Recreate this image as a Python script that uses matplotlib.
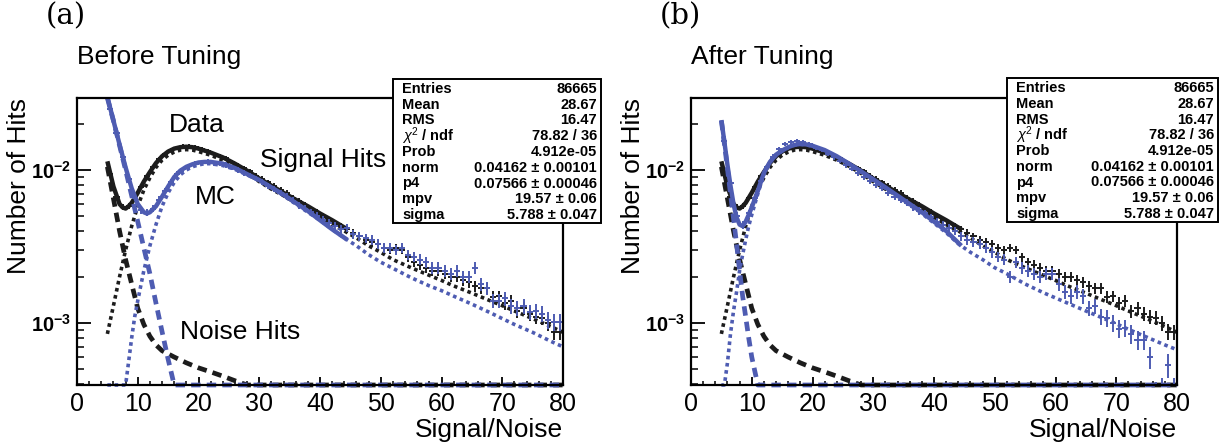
import numpy as np
import matplotlib
matplotlib.use('Agg')
import matplotlib.pyplot as plt
from matplotlib.patches import Rectangle
from matplotlib.ticker import FixedLocator, FixedFormatter, MultipleLocator, NullFormatter

plt.rcParams['font.family'] = ['Liberation Sans', 'DejaVu Sans']
plt.rcParams['mathtext.fontset'] = 'custom'
plt.rcParams['mathtext.rm'] = 'Liberation Sans'
plt.rcParams['mathtext.it'] = 'Liberation Sans:italic'
plt.rcParams['mathtext.bf'] = 'Liberation Sans:bold'

W, H = 1226, 446
BLACK = '#1c1c1c'
BLUE = '#4e5cb2'
YMIN, YMAX = 3.94e-4, 2.955e-2
DATA_ENTRIES = 86665
MC_ENTRIES = 60000

# histogram bin centers (Signal/Noise)
bin_centers = np.arange(5.5, 80, 1.0)

# ---- data (same in both panels) ----
data_hits = [
    0.0094, 0.0067, 0.0057, 0.0058, 0.0066, 0.0078, 0.0091, 0.0105, 0.0118, 0.0128,
    0.0136, 0.0140, 0.0143, 0.0144, 0.0141, 0.0137, 0.0133, 0.0128, 0.0124, 0.0119,
    0.0113, 0.0107, 0.0103, 0.0098, 0.0092, 0.0088, 0.0083, 0.0079, 0.0074, 0.0071,
    0.0066, 0.0063, 0.0059, 0.0056, 0.0053, 0.0050, 0.0047, 0.0045, 0.0043, 0.0041,
    0.0039, 0.0037, 0.0035, 0.0034, 0.0033, 0.0031, 0.0030, 0.0031, 0.0030, 0.0027,
    0.0025, 0.0024, 0.0023, 0.0022, 0.0022, 0.0021, 0.0020, 0.0020, 0.0019, 0.00185,
    0.00175, 0.0017, 0.0017, 0.00148, 0.0015, 0.00135, 0.0014, 0.0012, 0.00125, 0.00115,
    0.0011, 0.00108, 0.0010, 0.00088, 0.00087]

data_fit_x = [5, 6, 7, 7.5, 8, 8.5, 9, 10, 11, 12, 13, 14, 15, 16, 17, 18, 19, 20, 22, 24,
              26, 28, 30, 32, 34, 36, 38, 40, 42, 44.5]
data_fit = [0.0114, 0.0078, 0.0060, 0.0057, 0.0056, 0.0058, 0.0061, 0.0071, 0.0084, 0.0097,
            0.0111, 0.0123, 0.0132, 0.0138, 0.0141, 0.0142, 0.0141, 0.0138, 0.0130, 0.0121,
            0.0110, 0.0099, 0.0088, 0.0079, 0.0071, 0.0064, 0.0058, 0.0052, 0.0047, 0.0041]

data_sig_x = [5, 6, 7, 8, 9, 10, 11, 12, 13, 14, 15, 16, 17, 18, 19, 20, 22, 24, 26, 28, 30,
              32, 34, 36, 38, 40, 42, 44, 46, 48, 50, 52, 55, 58, 60, 62, 65, 68, 70, 72, 75,
              78, 80]
data_sig = [8.5e-4, 1.3e-3, 2.0e-3, 3.0e-3, 4.3e-3, 5.8e-3, 7.4e-3, 8.9e-3, 0.0104, 0.0116,
            0.0125, 0.0131, 0.0135, 0.0136, 0.0135, 0.0132, 0.0125, 0.0116, 0.0106, 0.0095,
            0.0084, 0.0075, 0.0068, 0.0061, 0.0055, 0.0049, 0.0044, 0.0040, 0.0036, 0.0032,
            0.0029, 0.0026, 0.0023, 0.00205, 0.0019, 0.00175, 0.00157, 0.0014, 0.0013, 0.0012,
            0.00107, 0.00095, 0.00087]

data_noise_x = [5, 6, 7, 8, 9, 10, 11, 12, 13, 14, 16, 18, 20, 22, 24, 26, 28, 30, 35, 40,
                50, 60, 70, 80]
data_noise = [0.0105, 0.0065, 0.0040, 0.0026, 0.0018, 0.00125, 0.00098, 0.00082, 0.00072,
              0.00066, 0.00060, 0.00055, 0.00051, 0.00048, 0.00045, 0.00042, 0.00039, 0.00036,
              0.00030, 0.00025, 0.00017, 0.00012, 0.00008, 0.00006]

# ---- MC before tuning ----
mc_before = [
    0.0250, 0.0175, 0.0122, 0.0088, 0.0066, 0.0055, 0.0053, 0.0056, 0.0064, 0.0073,
    0.0084, 0.0094, 0.0101, 0.0106, 0.0110, 0.0112, 0.0113, 0.0111, 0.0111, 0.0108,
    0.0104, 0.0100, 0.0096, 0.0092, 0.0088, 0.0083, 0.0079, 0.0075, 0.0071, 0.0067,
    0.0063, 0.0059, 0.0056, 0.0053, 0.0050, 0.0047, 0.0045, 0.0043, 0.0041, 0.0042,
    0.0038, 0.0037, 0.0036, 0.0035, 0.0033, 0.0031, 0.0031, 0.0030, 0.0031, 0.0028,
    0.0027, 0.0026, 0.0025, 0.0023, 0.0023, 0.0022, 0.0021, 0.0022, 0.0020, 0.0020,
    0.0023, 0.0018, 0.0017, 0.0014, 0.0014, 0.00145, 0.0013, 0.00125, 0.0013, 0.00118,
    0.0012, 0.00115, 0.00105, 0.00102, 0.00102]

mc_before_fit_x = [5, 6, 7, 8, 9, 10, 11, 11.5, 12, 13, 14, 15, 16, 17, 18, 19, 20, 21, 22,
                   24, 26, 28, 30, 32, 34, 36, 38, 40, 42, 44.5]
mc_before_fit = [0.030, 0.021, 0.0147, 0.0104, 0.0076, 0.0060, 0.0053, 0.0052, 0.0053, 0.0058,
                 0.0067, 0.0078, 0.0090, 0.0099, 0.0105, 0.0109, 0.0112, 0.0113, 0.0113, 0.0110,
                 0.0103, 0.0094, 0.0086, 0.0077, 0.0069, 0.0061, 0.0054, 0.0047, 0.0041, 0.0035]

mc_before_sig_x = [5, 6, 7, 7.5, 8, 8.5, 9, 9.5, 10, 11, 12, 13, 14, 15, 16, 17, 18, 19, 20,
                   21, 22, 24, 26, 28, 30, 32, 34, 36, 38, 40, 42, 44, 46, 48, 50, 52, 55, 58,
                   60, 62, 65, 68, 70, 72, 75, 78, 80]
mc_before_sig = [1e-5, 5e-5, 1.6e-4, 2.6e-4, 3.9e-4, 5.6e-4, 8.0e-4, 1.1e-3, 1.4e-3, 2.2e-3,
                 3.2e-3, 4.4e-3, 5.8e-3, 7.1e-3, 8.3e-3, 9.3e-3, 0.0100, 0.0105, 0.0108, 0.0110,
                 0.0110, 0.0107, 0.0101, 0.0093, 0.0085, 0.0077, 0.0068, 0.0060, 0.0053, 0.0047,
                 0.0041, 0.0036, 0.0032, 0.0028, 0.0025, 0.00228, 0.00198, 0.00175, 0.00163,
                 0.0015, 0.00133, 0.00117, 0.00107, 0.00098, 0.00087, 0.00076, 0.00070]

mc_before_noise_x = [5, 6, 7, 8, 9, 10, 11, 12, 13, 14, 15, 16, 17, 18, 20, 25, 30, 40, 50,
                     60, 70, 80]
mc_before_noise = [0.030, 0.021, 0.0145, 0.0100, 0.0068, 0.0046, 0.0031, 0.0021, 0.00135,
                   8.8e-4, 5.8e-4, 3.9e-4, 2.6e-4, 1.7e-4, 8e-5, 1e-5, 1e-6, 1e-6, 1e-6,
                   1e-6, 1e-6, 1e-6]

# ---- MC after tuning ----
mc_after = [
    0.0155, 0.0082, 0.0050, 0.0044, 0.0052, 0.0066, 0.0085, 0.0105, 0.0122, 0.0137,
    0.0148, 0.0153, 0.0155, 0.0152, 0.0147, 0.0140, 0.0135, 0.0128, 0.0121, 0.0115,
    0.0108, 0.0102, 0.0095, 0.0090, 0.0085, 0.0080, 0.0076, 0.0071, 0.0067, 0.0064,
    0.0061, 0.0057, 0.0054, 0.0052, 0.0049, 0.0046, 0.0044, 0.0042, 0.0040, 0.0037,
    0.0035, 0.0034, 0.0033, 0.0031, 0.0029, 0.0027, 0.0026, 0.0020, 0.0025, 0.0023,
    0.0022, 0.0021, 0.0020, 0.0021, 0.0021, 0.0018, 0.0016, 0.0015, 0.0016, 0.0015,
    0.00125, 0.0013, 0.0011, 0.00108, 0.0010, 0.00092, 0.00093, 0.00085, 0.00078, 0.00078,
    0.0006, 0.00034, 0.00036, 0.00053, 0.00036]

mc_after_fit_x = [5, 5.5, 6, 6.5, 7, 7.5, 8, 8.5, 9, 9.5, 10, 11, 12, 13, 14, 15, 16, 17, 18,
                  19, 20, 22, 24, 26, 28, 30, 32, 34, 36, 38, 40, 42, 44.5]
mc_after_fit = [0.0212, 0.0152, 0.0108, 0.0079, 0.0060, 0.0049, 0.0044, 0.0043, 0.0046, 0.0051,
                0.0057, 0.0073, 0.0096, 0.0113, 0.0126, 0.0134, 0.0141, 0.0146, 0.0148, 0.0147,
                0.0144, 0.0135, 0.0123, 0.0110, 0.0098, 0.0087, 0.0077, 0.0068, 0.0060, 0.0053,
                0.0046, 0.0040, 0.0032]

mc_after_sig_x = [5, 5.5, 6, 6.5, 7, 7.5, 8, 8.5, 9, 9.5, 10, 11, 12, 13, 14, 15, 16, 17, 18,
                  19, 20, 22, 24, 26, 28, 30, 32, 34, 36, 38, 40, 42, 44, 46, 48, 50, 52, 55,
                  58, 60, 62, 65, 68, 70, 72, 75, 78, 80]
mc_after_sig = [2e-4, 3.9e-4, 5.5e-4, 8.5e-4, 1.2e-3, 1.6e-3, 2.2e-3, 2.8e-3, 3.5e-3, 4.3e-3,
                5.1e-3, 7.0e-3, 9.4e-3, 0.0112, 0.0125, 0.0133, 0.0140, 0.0145, 0.0147, 0.0146,
                0.0143, 0.0134, 0.0122, 0.0109, 0.0097, 0.0086, 0.0076, 0.0067, 0.0059, 0.0052,
                0.0045, 0.0039, 0.0033, 0.0029, 0.0026, 0.0023, 0.0021, 0.0018, 0.00158,
                0.00146, 0.00135, 0.0012, 0.00107, 0.00099, 0.00091, 0.00081, 0.00072, 0.00067]

mc_after_noise_x = [5, 5.5, 6, 6.5, 7, 7.5, 8, 8.5, 9, 9.5, 10, 11, 12, 13, 14, 16, 20, 30,
                    50, 80]
mc_after_noise = [0.021, 0.0148, 0.0102, 0.0070, 0.0048, 0.0033, 0.0022, 0.0015, 0.0011,
                  8e-4, 6e-4, 3.4e-4, 2e-4, 1.1e-4, 6e-5, 2e-5, 1e-6, 1e-6, 1e-6, 1e-6]

stat_names = ['Entries', 'Mean', 'RMS', r'$\chi^2$ / ndf', 'Prob', 'norm', 'p4', 'mpv', 'sigma']
stat_values = ['86665', '28.67', '16.47', '78.82 / 36', '4.912e-05',
               '0.04162 ± 0.00101', '0.07566 ± 0.00046', '19.57 ± 0.06', '5.788 ± 0.047']


def fx(px):
    return px / W


def fy(py):
    return 1 - py / H


def draw_panel(left_px, mc_pts, fit_x, fit, sig_x, sig, noise_x, noise):
    ax = fig.add_axes([fx(left_px), fy(385), 486 / W, 287 / H])
    ax.set_yscale('log')
    ax.set_xlim(0, 80)
    ax.set_ylim(YMIN, YMAX)

    dots = dict(lw=2.6, linestyle=(0, (1.0, 1.0)), clip_on=False)
    dashes = dict(lw=3.4, linestyle=(0, (2.0, 1.3)), clip_on=False)

    # data (black)
    ax.plot(data_sig_x, np.clip(data_sig, YMIN, YMAX), color=BLACK, **dots)
    ax.plot(data_noise_x, np.clip(data_noise, YMIN, YMAX), color=BLACK, **dashes)
    d = np.array(data_hits)
    ax.errorbar(bin_centers, d, xerr=0.5, yerr=np.sqrt(d / DATA_ENTRIES), fmt='none',
                ecolor=BLACK, elinewidth=1.4, capsize=0)
    ax.plot(data_fit_x, data_fit, color=BLACK, lw=3.2, solid_capstyle='butt')

    # MC (blue)
    ax.plot(sig_x, np.clip(sig, YMIN, YMAX), color=BLUE, **dots)
    ax.plot(noise_x, np.clip(noise, YMIN, YMAX), color=BLUE, **dashes)
    m = np.array(mc_pts)
    ax.errorbar(bin_centers, m, xerr=0.5, yerr=np.sqrt(m / MC_ENTRIES), fmt='none',
                ecolor=BLUE, elinewidth=1.4, capsize=0)
    ax.plot(fit_x, fit, color=BLUE, lw=3.2, solid_capstyle='butt')

    ax.xaxis.set_major_locator(MultipleLocator(10))
    ax.xaxis.set_minor_locator(MultipleLocator(2))
    ax.yaxis.set_major_locator(FixedLocator([1e-3, 1e-2]))
    ax.yaxis.set_major_formatter(FixedFormatter([r'$\mathbf{10^{-3}}$', r'$\mathbf{10^{-2}}$']))
    minors = [k * 1e-4 for k in range(4, 10)] + [k * 1e-3 for k in range(2, 10)] + [2e-2]
    ax.yaxis.set_minor_locator(FixedLocator(minors))
    ax.yaxis.set_minor_formatter(NullFormatter())
    ax.tick_params(axis='x', which='major', direction='in', length=6, width=1.3,
                   labelsize=18, pad=5)
    ax.tick_params(axis='x', which='minor', direction='in', length=3, width=1.1)
    ax.tick_params(axis='y', which='major', direction='in', length=10, width=1.3,
                   labelsize=14.5, pad=4)
    ax.tick_params(axis='y', which='minor', direction='in', length=5, width=1.1)
    for s in ax.spines.values():
        s.set_linewidth(1.6)
    return ax


def draw_stats(x0, x1, y0, y1):
    fig.add_artist(Rectangle((fx(x0), fy(y1)), (x1 - x0) / W, (y1 - y0) / H,
                             transform=fig.transFigure, facecolor='white',
                             edgecolor='black', lw=1.4, zorder=5))
    for i, (name, val) in enumerate(zip(stat_names, stat_values)):
        yy = fy(y0 + 10 + i * 15.75)
        fig.text(fx(x0 + 9), yy, name, ha='left', va='center', fontsize=10.5,
                 fontweight='bold', zorder=6)
        fig.text(fx(x1 - 4), yy, val, ha='right', va='center', fontsize=10.5,
                 fontweight='bold', zorder=6)


fig = plt.figure(figsize=(W / 100, H / 100), dpi=100)

ax1 = draw_panel(77, mc_before, mc_before_fit_x, mc_before_fit, mc_before_sig_x,
                 mc_before_sig, mc_before_noise_x, mc_before_noise)
ax2 = draw_panel(691, mc_after, mc_after_fit_x, mc_after_fit, mc_after_sig_x,
                 mc_after_sig, mc_after_noise_x, mc_after_noise)

# labels on the left panel
ax1.text(19.8, 0.0197, 'Data', fontsize=19, ha='center', va='center')
ax1.text(22.8, 0.00666, 'MC', fontsize=19, ha='center', va='center')
ax1.text(30.2, 0.0116, 'Signal Hits', fontsize=19, ha='left', va='center')
ax1.text(17.0, 8.7e-4, 'Noise Hits', fontsize=19, ha='left', va='center')

for left, tag, title in [(77, '(a)', 'Before Tuning'), (691, '(b)', 'After Tuning')]:
    fig.text(fx(left - 31), fy(16), tag, fontsize=21, family='DejaVu Serif',
             ha='left', va='center')
    fig.text(fx(left), fy(57), title, fontsize=19, ha='left', va='center')
    fig.text(fx(left + 486), fy(430), 'Signal/Noise', fontsize=19, ha='right', va='center')
    fig.text(fx(left - 58), fy(98), 'Number of Hits', fontsize=19, rotation=90,
             ha='center', va='top')

draw_stats(393, 601, 79, 223)
draw_stats(1007, 1218, 78, 222)

fig.savefig('out.png', dpi=100)
